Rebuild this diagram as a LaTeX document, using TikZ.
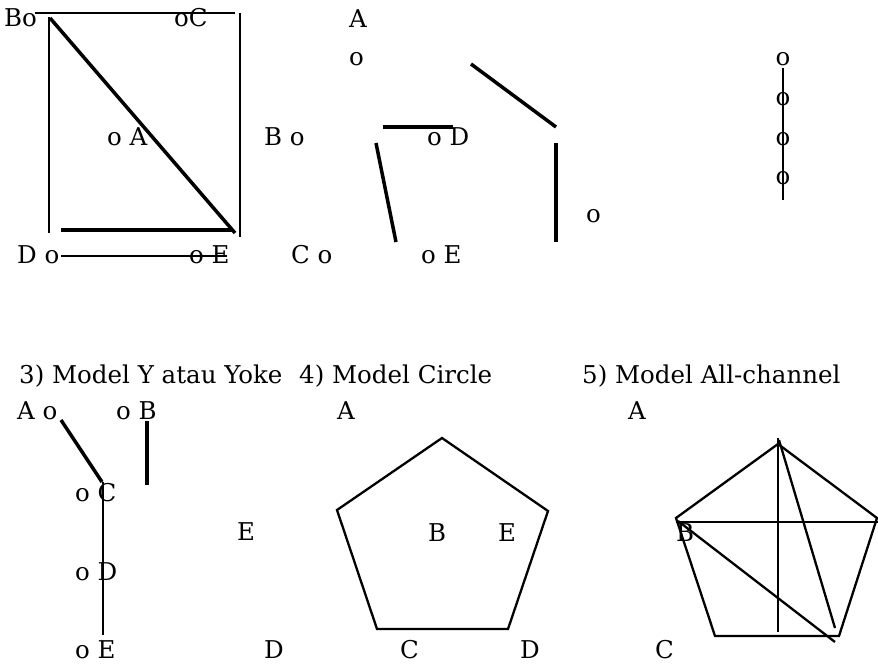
\documentclass[tikz,border=0pt]{standalone}
\usepackage{fontspec}
\setmainfont{DejaVu Serif}
\begin{document}
\begin{tikzpicture}[x=1pt,y=-1pt,
  lbl/.style={inner sep=0pt,anchor=base west,font=\fontsize{24.5}{28}\selectfont},
  thinln/.style={line width=1.6pt},
  midln/.style={line width=2.3pt},
  thickln/.style={line width=3.5pt}]
\useasboundingbox (0,0) rectangle (878,664);
% ---- top-left: wheel-like square ----
\node[lbl] (b1) at (4,26) {Bo};
\node[lbl] (c1) at (174,26) {oC};
\node[lbl] (a1) at (107,145) {o A};
\node[lbl] (d1) at (17,263) {D o};
\node[lbl] (e1) at (189,263) {o E};
\draw[thinln] (35,13) -- (235,13);
\draw[midln] (240,13) -- (240,237);
\draw[midln] (49,17) -- (49,233);
\draw[thickln] (50,18) -- (235,233);
\draw[thickln] (61,230) -- (233,230);
\draw[thinln] (61,256) -- (227,256);
% ---- top-middle ----
\node[lbl] (a2) at (349,27) {A};
\node[lbl] (o2) at (349,65) {o};
\node[lbl] (b2) at (264,145) {B o};
\node[lbl] (d2) at (427,145) {o D};
\node[lbl] (c2) at (291,263) {C o};
\node[lbl] (e2) at (421,263) {o E};
\node[lbl] (o3) at (586,222) {o};
\draw[thickln] (471,64) -- (556,127);
\draw[thickln] (383,127) -- (453,127);
\draw[thickln] (376,143) -- (396,242);
\draw[thickln] (556,143) -- (556,242);
% ---- top-right: chain ----
\node[lbl,anchor=base] (k1) at (783,65) {o};
\node[lbl,anchor=base] (k2) at (783,105) {o};
\node[lbl,anchor=base] (k3) at (783,145) {o};
\node[lbl,anchor=base] (k4) at (783,184) {o};
\draw[midln] (783,68) -- (783,200);
% ---- titles ----
\node[lbl] (t3) at (19,383) {3) Model Y atau Yoke};
\node[lbl] (t4) at (299,383) {4) Model Circle};
\node[lbl] (t5) at (582,383) {5) Model All-channel};
% ---- Y model ----
\node[lbl] (ya) at (17,419) {A o};
\node[lbl] (yb) at (116,419) {o B};
\node[lbl] (yc) at (75,501) {o C};
\node[lbl] (ye2) at (237,540) {E};
\node[lbl] (yd) at (75,580) {o D};
\node[lbl] (ye) at (75,658) {o E};
\node[lbl] (yd2) at (264,658) {D};
\draw[thickln] (61,420) -- (102,482);
\draw[thickln] (147,421) -- (147,485);
\draw[midln] (103,482) -- (103,635);
% ---- Circle model ----
\node[lbl] (ca) at (337,419) {A};
\node[lbl] (cb) at (428,541) {B};
\node[lbl] (ce) at (498,541) {E};
\node[lbl] (cc) at (400,658) {C};
\node[lbl] (cd) at (520,658) {D};
\coordinate (p1) at (442,438);
\coordinate (p2) at (548,511);
\coordinate (p3) at (508,629);
\coordinate (p4) at (377,629);
\coordinate (p5) at (337,510);
\draw[midln,line join=miter] (p1) -- (p2) -- (p3) -- (p4) -- (p5) -- cycle;
% ---- All-channel model ----
\node[lbl] (aa) at (628,419) {A};
\node[lbl] (ab) at (676,541) {B};
\node[lbl] (ac) at (655,658) {C};
\coordinate (q1) at (778,444);
\coordinate (q2) at (877,518);
\coordinate (q3) at (839,636);
\coordinate (q4) at (715,636);
\coordinate (q5) at (676,518);
\draw[midln,line join=miter] (q1) -- (q2) -- (q3) -- (q4) -- (q5) -- cycle;
\draw[midln] (676,522) -- (878,522);
\draw[midln] (778,438) -- (778,632);
\draw[midln] (779,440) -- (835,628);
\draw[midln] (678,521) -- (835,642);
\end{tikzpicture}
\end{document}
